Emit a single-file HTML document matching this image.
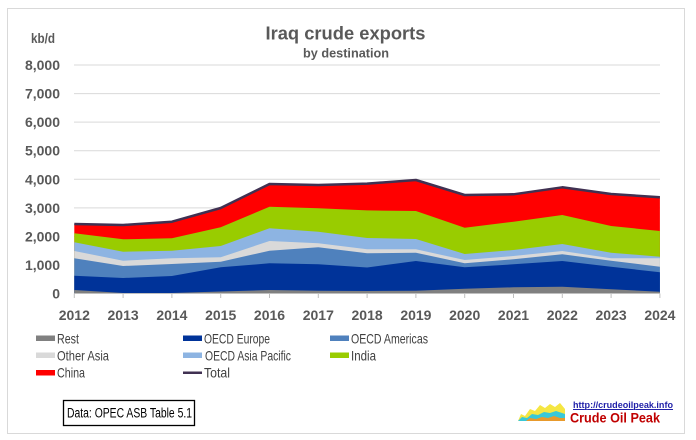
<!DOCTYPE html>
<html><head><meta charset="utf-8">
<style>
html,body{margin:0;padding:0;background:#fff;}
svg{display:block;}
text{font-family:"Liberation Sans",sans-serif;}
</style></head>
<body>
<svg width="696" height="440" viewBox="0 0 696 440" xmlns="http://www.w3.org/2000/svg">
<rect x="0" y="0" width="696" height="440" fill="#fff"/>
<rect x="7.5" y="8.5" width="677" height="425" fill="#fff" stroke="#D9D9D9" stroke-width="1"/>

<!-- title -->
<text x="345.5" y="39.5" font-size="18" font-weight="bold" fill="#595959" text-anchor="middle" textLength="160" lengthAdjust="spacingAndGlyphs">Iraq crude exports</text>
<text x="346" y="57.5" font-size="13" font-weight="bold" fill="#595959" text-anchor="middle" textLength="86" lengthAdjust="spacingAndGlyphs">by destination</text>
<text x="31" y="43" font-size="14" font-weight="bold" fill="#595959" textLength="24" lengthAdjust="spacingAndGlyphs">kb/d</text>

<!-- gridlines -->
<g stroke="#D9D9D9" stroke-width="1">
<line x1="74" y1="65" x2="660" y2="65"/>
<line x1="74" y1="93.6" x2="660" y2="93.6"/>
<line x1="74" y1="122.1" x2="660" y2="122.1"/>
<line x1="74" y1="150.7" x2="660" y2="150.7"/>
<line x1="74" y1="179.3" x2="660" y2="179.3"/>
<line x1="74" y1="207.9" x2="660" y2="207.9"/>
<line x1="74" y1="236.4" x2="660" y2="236.4"/>
<line x1="74" y1="265" x2="660" y2="265"/>
<line x1="74" y1="293.5" x2="660" y2="293.5"/>
</g>

<!-- y labels -->
<g font-size="14" font-weight="bold" fill="#595959" text-anchor="end">
<text x="60" y="70">8,000</text>
<text x="60" y="98.6">7,000</text>
<text x="60" y="127.1">6,000</text>
<text x="60" y="155.7">5,000</text>
<text x="60" y="184.3">4,000</text>
<text x="60" y="212.9">3,000</text>
<text x="60" y="241.4">2,000</text>
<text x="60" y="270">1,000</text>
<text x="60" y="298.5">0</text>
</g>

<!-- areas -->
<polygon fill="#FF0000" points="74.3,224 123.1,225 171.9,221.7 220.7,208 269.5,184 318.3,185 367.1,183.6 415.9,180 464.7,195 513.5,194.3 562.3,187.3 611.1,194 659.9,197.3 659.9,293.5 74.3,293.5"/>
<polygon fill="#99CC00" points="74.3,233.3 123.1,239.3 171.9,238.3 220.7,227.3 269.5,206.7 318.3,208.3 367.1,210.4 415.9,211 464.7,227.7 513.5,221.7 562.3,215 611.1,226 659.9,231 659.9,293.5 74.3,293.5"/>
<polygon fill="#8DB4E2" points="74.3,242.3 123.1,251.7 171.9,250.7 220.7,246 269.5,228.3 318.3,231.7 367.1,238 415.9,239 464.7,254 513.5,250 562.3,244 611.1,252.7 659.9,256.7 659.9,293.5 74.3,293.5"/>
<polygon fill="#D9D9D9" points="74.3,251 123.1,260.7 171.9,258.3 220.7,257.3 269.5,241 318.3,243.3 367.1,249.2 415.9,249.3 464.7,260 513.5,256 562.3,251 611.1,258.3 659.9,258.3 659.9,293.5 74.3,293.5"/>
<polygon fill="#4F81BD" points="74.3,258.3 123.1,266 171.9,264 220.7,261.7 269.5,250.7 318.3,247.3 367.1,253.3 415.9,252.7 464.7,263.3 513.5,259.3 562.3,254.3 611.1,260.7 659.9,266.7 659.9,293.5 74.3,293.5"/>
<polygon fill="#003399" points="74.3,275.7 123.1,278 171.9,276 220.7,267.3 269.5,263.3 318.3,264.3 367.1,267.5 415.9,261 464.7,267.3 513.5,264.3 562.3,261 611.1,266.7 659.9,272.3 659.9,293.5 74.3,293.5"/>
<polygon fill="#808080" points="74.3,290 123.1,293 171.9,293 220.7,291.5 269.5,290 318.3,290.7 367.1,291 415.9,290.7 464.7,288.7 513.5,287.3 562.3,286.7 611.1,289.3 659.9,291.7 659.9,293.5 74.3,293.5"/>
<polyline fill="none" stroke="#403152" stroke-width="2.5" stroke-linejoin="round" points="74.3,224 123.1,225 171.9,221.7 220.7,208 269.5,184 318.3,185 367.1,183.6 415.9,180 464.7,195 513.5,194.3 562.3,187.3 611.1,194 659.9,197.3"/>

<!-- x ticks -->
<g stroke="#BFBFBF" stroke-width="1">
<line x1="74.3" y1="293.5" x2="659.9" y2="293.5"/>
<line x1="74.3" y1="293.5" x2="74.3" y2="298"/>
<line x1="123.1" y1="293.5" x2="123.1" y2="298"/>
<line x1="171.9" y1="293.5" x2="171.9" y2="298"/>
<line x1="220.7" y1="293.5" x2="220.7" y2="298"/>
<line x1="269.5" y1="293.5" x2="269.5" y2="298"/>
<line x1="318.3" y1="293.5" x2="318.3" y2="298"/>
<line x1="367.1" y1="293.5" x2="367.1" y2="298"/>
<line x1="415.9" y1="293.5" x2="415.9" y2="298"/>
<line x1="464.7" y1="293.5" x2="464.7" y2="298"/>
<line x1="513.5" y1="293.5" x2="513.5" y2="298"/>
<line x1="562.3" y1="293.5" x2="562.3" y2="298"/>
<line x1="611.1" y1="293.5" x2="611.1" y2="298"/>
<line x1="659.9" y1="293.5" x2="659.9" y2="298"/>
</g>

<!-- x labels -->
<g font-size="14" font-weight="bold" fill="#595959" text-anchor="middle">
<text x="74.3" y="320">2012</text>
<text x="123.1" y="320">2013</text>
<text x="171.9" y="320">2014</text>
<text x="220.7" y="320">2015</text>
<text x="269.5" y="320">2016</text>
<text x="318.3" y="320">2017</text>
<text x="367.1" y="320">2018</text>
<text x="415.9" y="320">2019</text>
<text x="464.7" y="320">2020</text>
<text x="513.5" y="320">2021</text>
<text x="562.3" y="320">2022</text>
<text x="611.1" y="320">2023</text>
<text x="659.9" y="320">2024</text>
</g>

<!-- legend -->
<rect x="36" y="335.5" width="19" height="5.5" fill="#808080"/>
<rect x="183" y="335.5" width="19" height="5.5" fill="#003399"/>
<rect x="330" y="335.5" width="19" height="5.5" fill="#4F81BD"/>
<rect x="36" y="352.5" width="19" height="5.5" fill="#D9D9D9"/>
<rect x="183" y="352.5" width="19" height="5.5" fill="#8DB4E2"/>
<rect x="330" y="352.5" width="19" height="5.5" fill="#99CC00"/>
<rect x="36" y="370" width="19" height="5.5" fill="#FF0000"/>
<line x1="183" y1="372.7" x2="202" y2="372.7" stroke="#403152" stroke-width="2.5"/>
<g font-size="14" fill="#404040">
<text x="57" y="343.3" textLength="22" lengthAdjust="spacingAndGlyphs">Rest</text>
<text x="204" y="343.3" textLength="66" lengthAdjust="spacingAndGlyphs">OECD Europe</text>
<text x="351" y="343.3" textLength="77" lengthAdjust="spacingAndGlyphs">OECD Americas</text>
<text x="57" y="360.3" textLength="52" lengthAdjust="spacingAndGlyphs">Other Asia</text>
<text x="205" y="360.3" textLength="86" lengthAdjust="spacingAndGlyphs">OECD Asia Pacific</text>
<text x="351" y="360.3" textLength="25" lengthAdjust="spacingAndGlyphs">India</text>
<text x="57" y="377.5" textLength="28" lengthAdjust="spacingAndGlyphs">China</text>
<text x="204" y="377.5" textLength="26" lengthAdjust="spacingAndGlyphs">Total</text>
</g>

<!-- data box -->
<rect x="63.5" y="400.5" width="131" height="25" fill="#fff" stroke="#000" stroke-width="1.3"/>
<text x="67" y="417.5" font-size="13.5" fill="#000" textLength="125" lengthAdjust="spacingAndGlyphs">Data: OPEC ASB Table 5.1</text>

<!-- logo -->
<g>
<polygon fill="#F5E642" points="518,421 521,414 525,416 530,409 535,411 540,405 545,408 550,404 555,407 560,403 565,409 565,421"/>
<polygon fill="#38C8D8" points="518,421 522,417 527,418 532,414 538,415 544,412 550,413 556,411 562,413 565,414 565,421"/>
<polygon fill="#E89A2C" points="526,421 530,418 536,419 542,417 548,418 554,416 560,418 565,418 565,421"/>
<text x="573" y="408" font-family="Liberation Serif,serif" font-size="9.5" font-weight="bold" fill="#1F1FA8" textLength="100" lengthAdjust="spacingAndGlyphs" text-decoration="underline">http://crudeoilpeak.info</text>
<line x1="573" y1="409.5" x2="673" y2="409.5" stroke="#1F1FA8" stroke-width="0.8"/>
<text x="570" y="422.5" font-size="13.5" font-weight="bold" fill="#C00000" textLength="90" lengthAdjust="spacingAndGlyphs">Crude Oil Peak</text>
</g>
</svg>
</body></html>
